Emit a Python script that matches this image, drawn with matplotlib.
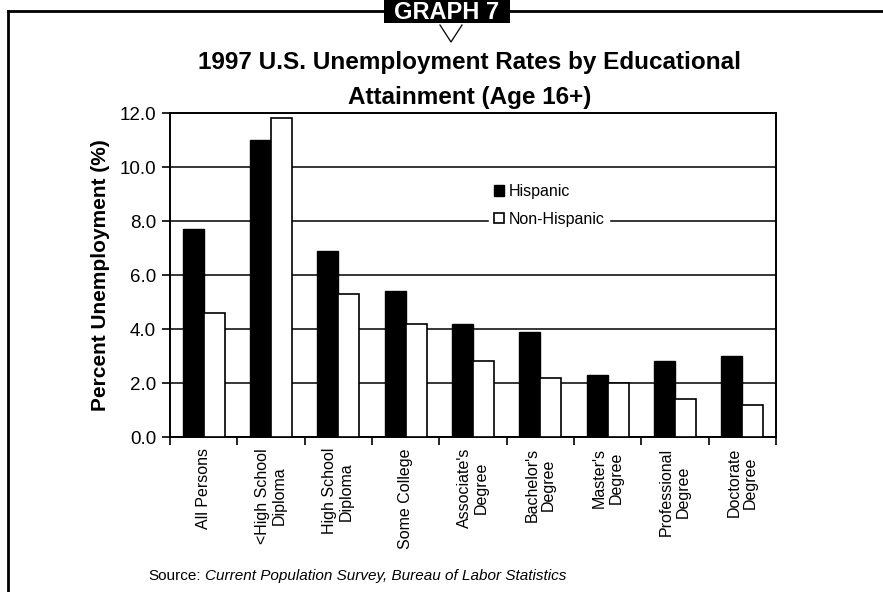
# 1997 U.S. unemployment rates by educational attainment (Graph 7)
import numpy as np
import matplotlib
matplotlib.use("Agg")
import matplotlib.pyplot as plt
from matplotlib.lines import Line2D
from matplotlib.patches import Rectangle

plt.rcParams['font.family'] = ['Liberation Sans', 'DejaVu Sans']

# data
categories = ["All Persons", "<High School\nDiploma", "High School\nDiploma",
              "Some College", "Associate's\nDegree", "Bachelor's\nDegree",
              "Master's\nDegree", "Professional\nDegree", "Doctorate\nDegree"]
hispanic = [7.7, 11.0, 6.9, 5.4, 4.2, 3.9, 2.3, 2.8, 3.0]
non_hispanic = [4.6, 11.8, 5.3, 4.2, 2.8, 2.2, 2.0, 1.4, 1.2]
yticks = [0, 2, 4, 6, 8, 10, 12]

W, H = 883, 592
fig = plt.figure(figsize=(W / 100, H / 100), dpi=100)
ax = fig.add_axes([170 / W, 1 - 437 / H, 606 / W, 324 / H])

x = np.arange(len(categories))
bw = 0.31
ax.bar(x - 0.155, hispanic, bw, color="black", edgecolor="black",
       linewidth=1.0, zorder=3, label="Hispanic")
ax.bar(x + 0.155, non_hispanic, bw, color="white", edgecolor="black",
       linewidth=1.2, zorder=3, label="Non-Hispanic")

ax.set_xlim(-0.5, len(categories) - 0.5)
ax.set_ylim(0, 12)
ax.set_yticks(yticks)
ax.set_yticklabels([f"{v:.1f}" for v in yticks], fontsize=13.5)
ax.yaxis.grid(True, color="black", linewidth=1.1, zorder=0)
ax.set_axisbelow(True)

# labels centred under groups, tick marks on group boundaries
ax.set_xticks(x)
ax.set_xticklabels(categories, rotation=90, fontsize=11.5, linespacing=1.15,
                   va="top", ha="center")
ax.tick_params(axis="x", which="major", length=0, pad=8)
ax.set_xticks(np.arange(-0.5, len(categories), 1.0), minor=True)
ax.tick_params(axis="x", which="minor", length=6, width=1.2, direction="out")
ax.tick_params(axis="y", length=6, width=1.2, direction="out", pad=4)
for s in ax.spines.values():
    s.set_linewidth(1.4)

ax.set_ylabel("Percent Unemployment (%)", fontsize=15, fontweight="bold",
              labelpad=7)

leg = ax.legend(loc="upper left", bbox_to_anchor=(0.514, 0.82), frameon=True,
                fontsize=11.5, handlelength=0.6, handleheight=0.6,
                handletextpad=0.3, labelspacing=0.8, borderpad=0.3,
                fancybox=False)
leg.get_frame().set_edgecolor("white")
leg.get_frame().set_facecolor("white")
leg.get_frame().set_alpha(1)
leg.set_zorder(5)

fig.text(470 / W, 1 - 69 / H, "1997 U.S. Unemployment Rates by Educational",
         ha="center", va="baseline", fontsize=17.5, fontweight="bold")
fig.text(470 / W, 1 - 104 / H, "Attainment (Age 16+)",
         ha="center", va="baseline", fontsize=17.5, fontweight="bold")

fig.text(148 / W, 1 - 576 / H, "Source:", fontsize=11, va="center")
fig.text(205 / W, 1 - 576 / H,
         "Current Population Survey, Bureau of Labor Statistics",
         fontsize=11, style="italic", va="center")

# outer frame with the "GRAPH 7" tab
fig.add_artist(Line2D([8 / W, 8 / W], [1 - 11 / H, 0], color="black",
                      linewidth=2.0, transform=fig.transFigure))
fig.add_artist(Line2D([8 / W, 1.0], [1 - 11 / H, 1 - 11 / H], color="black",
                      linewidth=2.0, transform=fig.transFigure))
fig.add_artist(Rectangle((384 / W, 1 - 23 / H), 126 / W, 23 / H,
                         facecolor="black", edgecolor="none",
                         transform=fig.transFigure, zorder=5))
fig.text(447 / W, 1 - 19 / H, "GRAPH 7", color="white", fontsize=17,
         fontweight="bold", ha="center", va="baseline", zorder=6)
fig.add_artist(Line2D([440 / W, 451 / W, 462 / W],
                      [1 - 25 / H, 1 - 42 / H, 1 - 25 / H], color="black",
                      linewidth=0.9, transform=fig.transFigure))

fig.savefig("out.png", dpi=100)
